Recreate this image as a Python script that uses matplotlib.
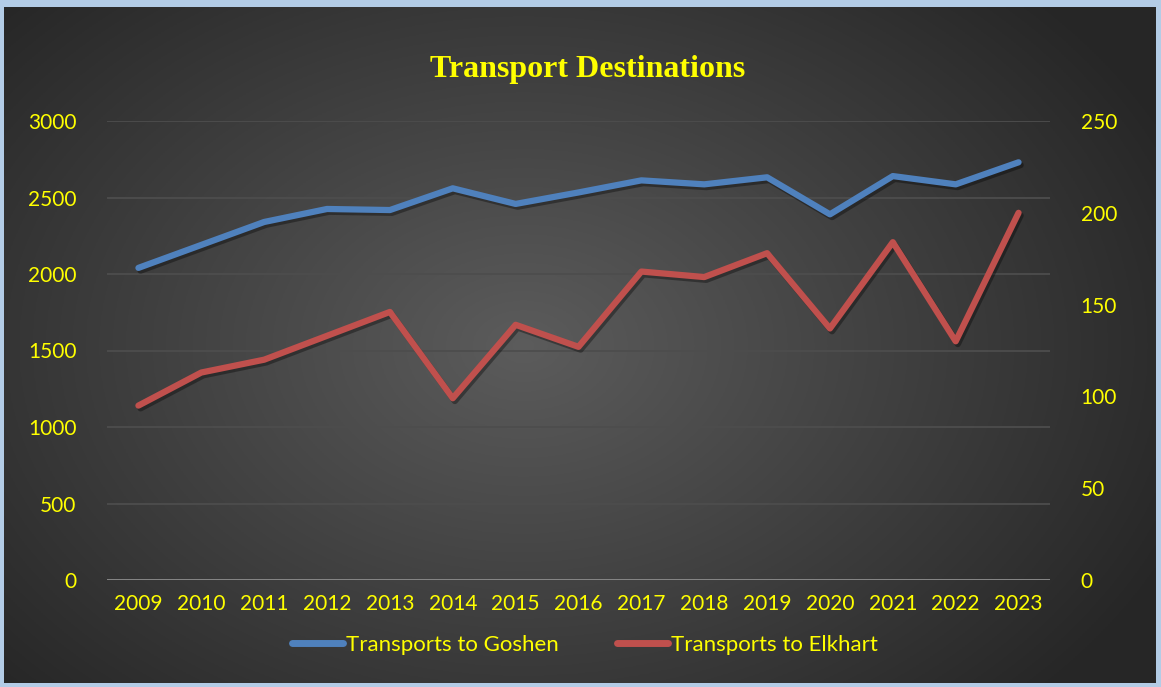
import numpy as np
import matplotlib.pyplot as plt
import matplotlib.patheffects as pe
from matplotlib.lines import Line2D

years = ['2009', '2010', '2011', '2012', '2013', '2014', '2015', '2016',
         '2017', '2018', '2019', '2020', '2021', '2022', '2023']
goshen = [2040, 2190, 2340, 2425, 2418, 2560, 2458, 2533, 2612, 2586, 2632, 2390, 2640, 2586, 2730]
elkhart = [95, 113, 120, 133, 146, 99, 139, 127, 168, 165, 178, 137, 184, 130, 200]

yellow = '#ffff00'
blue = '#4f81bd'
red = '#c0504d'
font = ['Lato', 'DejaVu Sans']

fig = plt.figure(figsize=(11.61, 6.87), dpi=100)
fig.patch.set_facecolor('#b3cce6')

# dark panel with radial gradient
bg = fig.add_axes([4 / 1161, 4 / 687, 1152 / 1161, 676 / 687])
ny, nx = 300, 500
yy, xx = np.mgrid[0:ny, 0:nx]
cx, cy = nx * 0.45, ny * 0.5
r = np.sqrt(((xx - cx) / (nx * 0.62)) ** 2 + ((yy - cy) / (ny * 0.75)) ** 2)
r = np.clip(r, 0, 1)
shade = 0.36 - 0.21 * r
bg.imshow(np.dstack([shade, shade, shade]), aspect='auto', extent=[0, 1, 0, 1])
bg.set_axis_off()

ax = fig.add_axes([107 / 1161, 1 - 580 / 687, 943 / 1161, 459 / 687])
ax.set_facecolor('none')
ax2 = ax.twinx()

x = np.arange(len(years))
shadow = [pe.SimpleLineShadow(offset=(1.5, -2), shadow_color='black', alpha=0.35), pe.Normal()]
ax.plot(x, goshen, color=blue, lw=4.5, solid_capstyle='round', solid_joinstyle='round',
        path_effects=shadow, zorder=3)
ax2.plot(x, elkhart, color=red, lw=4.5, solid_capstyle='round', solid_joinstyle='round',
         path_effects=shadow, zorder=3)

ax.set_xlim(-0.5, len(years) - 0.5)
ax.set_ylim(0, 3000)
ax2.set_ylim(0, 250)
ax.set_yticks(range(0, 3001, 500))
ax2.set_yticks(range(0, 251, 50))
ax.set_xticks(x)
ax.set_xticklabels(years)

ax.grid(axis='y', color='#4d4d4d', lw=1.3)
ax.axhline(0, color='#8c8c8c', lw=2, zorder=2)
ax.set_axisbelow(True)
for a in (ax, ax2):
    for s in a.spines.values():
        s.set_visible(False)
    a.tick_params(length=0, colors=yellow, labelsize=15)
    for lab in a.get_xticklabels() + a.get_yticklabels():
        lab.set_fontfamily(font)
ax.tick_params(axis='y', pad=22)
ax2.tick_params(axis='y', pad=22)
ax.tick_params(axis='x', pad=10)

fig.text(0.506, 1 - 70 / 687, 'Transport Destinations', color=yellow, ha='center', va='center',
         fontsize=23, fontweight='bold', family=['Liberation Serif', 'DejaVu Serif'])

handles = [Line2D([], [], color=blue, lw=5, solid_capstyle='round'),
           Line2D([], [], color=red, lw=5, solid_capstyle='round')]
leg = fig.legend(handles, ['Transports to Goshen', 'Transports to Elkhart'],
                 loc='center', bbox_to_anchor=(0.504, 1 - 645 / 687), ncol=2, frameon=False,
                 prop={'family': font, 'size': 16}, handlelength=2.3, handletextpad=0.15,
                 columnspacing=2.6)
for t in leg.get_texts():
    t.set_color(yellow)

fig.savefig('out.png', dpi=100, facecolor=fig.get_facecolor())
